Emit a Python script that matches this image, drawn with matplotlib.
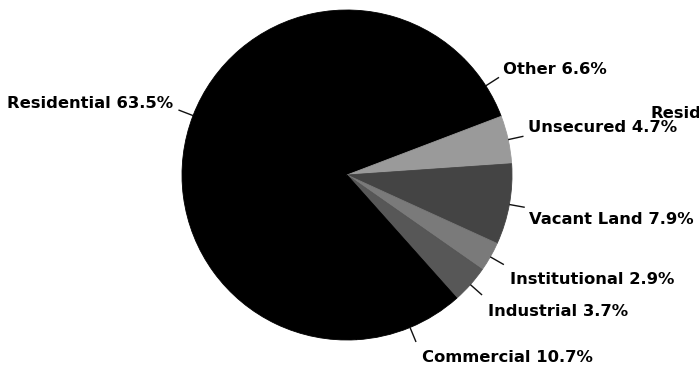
import numpy as np
import matplotlib
matplotlib.use("Agg")
import matplotlib.pyplot as plt
from matplotlib.patches import Circle

# land use shares (percent), clockwise from the big slice
categories = ["Residential", "Other", "Unsecured", "Vacant Land",
              "Institutional", "Industrial", "Commercial"]
shares = [63.5, 6.6, 4.7, 7.9, 2.9, 3.7, 10.7]
shades = ["#000000", "#000000", "#9a9a9a", "#444444",
          "#7a7a7a", "#575757", "#000000"]

# label anchor (x, centre y, alignment) in pixel units from top-left
label_pos = {
    "Residential": (173, 103, "right"),
    "Other": (503, 69, "left"),
    "Unsecured": (528, 127, "left"),
    "Vacant Land": (529, 220, "left"),
    "Institutional": (510, 280, "left"),
    "Industrial": (488, 312, "left"),
    "Commercial": (422, 358, "left"),
}

W, H = 699, 369
CX, CY, R = 347, 175, 165

fig = plt.figure(figsize=(W / 100, H / 100), dpi=100)
ax = fig.add_axes([0, 0, 1, 1])

# dark disc behind the slices hides anti-aliasing seams between black wedges
ax.add_patch(Circle((CX, H - CY), R - 1.5, color="#000000", zorder=0))

wedges, _ = ax.pie(shares, colors=shades, startangle=273.2, counterclock=False,
                   center=(CX, H - CY), radius=R,
                   wedgeprops=dict(linewidth=0.6))
for w in wedges:
    w.set_edgecolor(w.get_facecolor())

ax.set_xlim(0, W)
ax.set_ylim(0, H)
ax.set_aspect("equal")
ax.axis("off")

font = dict(family="DejaVu Sans", fontweight="bold", fontsize=11.8, color="#000000")

for w, name, pct in zip(wedges, categories, shares):
    mid = np.deg2rad((w.theta1 + w.theta2) / 2)
    r0, r1 = R, R * 1.095
    ax.plot([CX + r0 * np.cos(mid), CX + r1 * np.cos(mid)],
            [H - CY + r0 * np.sin(mid), H - CY + r1 * np.sin(mid)],
            color="#111111", lw=1.0, solid_capstyle="butt")
    x, y, ha = label_pos[name]
    ax.text(x, H - y, f"{name} {pct}%", ha=ha, va="center", **font)

# stray label running off the right edge
ax.text(650, H - 113, "Residential", ha="left", va="center", **font)

fig.savefig("out.png", dpi=100)
